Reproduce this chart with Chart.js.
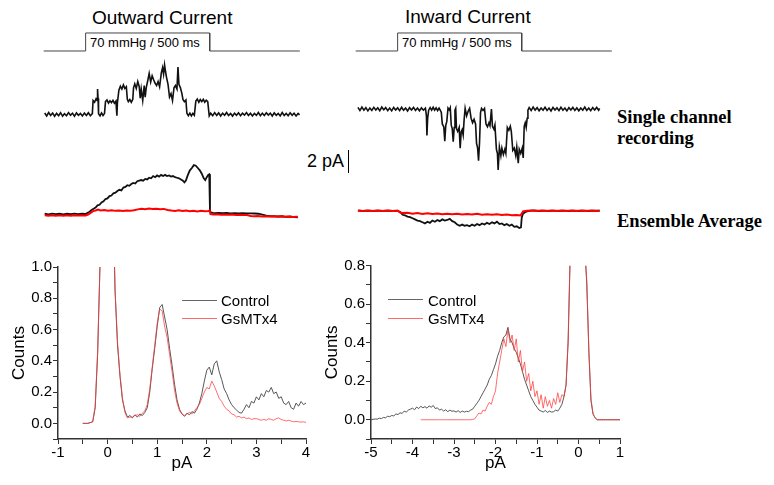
<!DOCTYPE html>
<html>
<head>
<meta charset="utf-8">
<script src="https://cdn.jsdelivr.net/npm/chart.js@4.4.1/dist/chart.umd.min.js"></script>
<style>
  body { margin: 0; background: #fff; }
  #fig { position: relative; width: 774px; height: 485px; overflow: hidden; font-family: "Liberation Sans", Arial, sans-serif; color: #000; }
  #fig canvas { position: absolute; }
  .txt { position: absolute; white-space: nowrap; }
  .serif { font-family: "Liberation Serif", "Times New Roman", serif; font-weight: bold; font-size: 18.5px; }
  .legline { position: absolute; height: 0; width: 35px; }
</style>
</head>
<body>
<div id="fig">
  <div class="txt" style="left:92px;top:8px;font-size:19px;line-height:19px;">Outward Current</div>
  <div class="txt" style="left:405px;top:7px;font-size:19px;line-height:19px;">Inward Current</div>
  <div class="txt" style="left:90px;top:36px;font-size:13px;line-height:13px;">70 mmHg / 500 ms</div>
  <div class="txt" style="left:402px;top:36px;font-size:13px;line-height:13px;">70 mmHg / 500 ms</div>
  <div class="txt" style="left:307px;top:152px;font-size:18px;line-height:18px;">2 pA</div>
  <div style="position:absolute;left:348px;top:150px;height:23px;border-left:1.5px solid #000;"></div>
  <div class="txt serif" style="left:617px;top:107px;line-height:20.5px;">Single channel<br>recording</div>
  <div class="txt serif" style="left:617px;top:212px;line-height:18.5px;">Ensemble Average</div>

  <canvas id="pressOut" width="273" height="28" style="left:36px;top:28px;"></canvas>
  <canvas id="pressIn" width="273" height="28" style="left:348px;top:28px;"></canvas>
  <canvas id="singleOut" width="273" height="75" style="left:36px;top:56px;"></canvas>
  <canvas id="singleIn" width="273" height="85" style="left:348px;top:95px;"></canvas>
  <canvas id="avgOut" width="273" height="70" style="left:36px;top:155px;"></canvas>
  <canvas id="avgIn" width="273" height="45" style="left:348px;top:195px;"></canvas>

  <canvas id="histOut" width="330" height="235" style="left:0px;top:250px;"></canvas>
  <canvas id="histIn" width="335" height="235" style="left:315px;top:250px;"></canvas>

  <div class="legline" style="left:182px;top:300px;border-top:1px solid #666;"></div>
  <div class="legline" style="left:182px;top:318px;border-top:1px solid rgba(255,70,70,0.8);"></div>
  <div class="txt" style="left:221px;top:293px;font-size:15px;line-height:15px;">Control</div>
  <div class="txt" style="left:221px;top:311px;font-size:15px;line-height:15px;">GsMTx4</div>
  <div class="legline" style="left:388px;top:299px;border-top:1px solid #666;"></div>
  <div class="legline" style="left:388px;top:318px;border-top:1px solid rgba(255,70,70,0.8);"></div>
  <div class="txt" style="left:428px;top:293px;font-size:15px;line-height:15px;">Control</div>
  <div class="txt" style="left:428px;top:311px;font-size:15px;line-height:15px;">GsMTx4</div>
</div>

<script>
// pressure step, [ms, mmHg]
const pressure = [[-169, 0], [0, 0], [0, 70], [500, 70], [500, 0], [863, 0]];

// single channel recordings, [ms, pA]
const outSingle = [
  [-165,0.12],[-157,-0.14],[-149,0.16],[-141,-0.09],[-133,0.11],[-125,-0.17],[-117,0.08],[-109,-0.12],[-101,0.14],[-93,-0.15],
  [-85,0.06],[-77,-0.12],[-69,0.15],[-61,-0.08],[-53,0.1],[-45,-0.17],[-37,0.12],[-29,-0.09],[-21,0.08],[-13,-0.14],
  [-5,0.11],[3,-0.1],[11,0.14],[19,-0.12],[27,0.06],
  [30,1.2],[36,1.05],[42,1.35],[46,1.2],[48,2.2],[50,1.4],[52,0.05],[58,-0.14],[64,0.12],[70,-0.1],[76,0.08],
  [80,1.1],[86,1.25],[92,0.98],[98,1.18],[104,1.02],[110,1.22],[116,0.96],[122,1.15],[126,-0.12],[128,1.0],
  [134,2.1],[140,2.45],[146,2.2],[152,2.55],[158,2.25],[164,2.4],[168,1.3],[172,1.1],[178,1.28],[184,1.05],[190,1.3],
  [193,2.3],[198,2.65],[204,2.25],[210,2.85],[216,2.4],[220,1.4],[224,2.2],[230,1.2],[236,2.5],[240,1.5],[244,2.3],
  [250,2.9],[256,3.55],[262,2.8],[268,3.35],[274,3.0],[280,2.7],[286,2.5],[292,2.85],[298,2.4],
  [305,3.6],[310,4.05],[314,3.5],[318,4.3],[322,3.7],[326,3.2],[332,2.6],[338,1.5],[344,1.8],[350,1.2],
  [356,2.3],[362,2.5],[368,2.2],[372,4.1],[376,2.6],[382,2.3],[388,1.8],[392,1.3],[398,1.1],[404,1.25],
  [408,0.1],[414,-0.12],[420,0.1],[426,-0.14],[432,0.08],[438,-0.08],
  [444,1.15],[450,1.32],[456,1.05],[462,1.28],[468,1.1],[474,1.3],[480,1.05],[486,1.22],[492,1.1],
  [498,-0.14],[504,0.1],[512,-0.12],[520,0.15],[528,-0.09],[536,0.12],[544,-0.15],[552,0.1],[560,-0.08],[568,0.16],
  [576,-0.11],[584,0.07],[592,-0.15],[600,0.1],[608,-0.09],[616,0.13],[624,-0.12],[632,0.09],[640,-0.07],[648,0.15],
  [656,-0.1],[664,0.1],[672,-0.14],[680,0.07],[688,-0.09],[696,0.16],[704,-0.12],[712,0.09],[720,-0.1],[728,0.13],
  [736,-0.07],[744,0.1],[752,-0.15],[760,0.12],[768,-0.09],[776,0.08],[784,-0.14],[792,0.15],[800,-0.1],[808,0.07],
  [816,-0.12],[824,0.13],[832,-0.09],[840,0.1],[848,-0.14],[856,0.08],[862,-0.05]
];

const inSingle = [
  [-160,0.14],[-152,-0.13],[-144,0.17],[-136,-0.1],[-128,0.12],[-120,-0.16],[-112,0.09],[-104,-0.12],[-96,0.15],[-88,-0.09],
  [-80,0.1],[-72,-0.15],[-64,0.17],[-56,-0.07],[-48,0.12],[-40,-0.14],[-32,0.09],[-24,-0.16],[-16,0.14],[-8,-0.09],
  [0,0.1],[8,-0.14],[16,0.15],[24,-0.1],[32,0.09],[40,-0.17],[48,0.12],[56,-0.09],[64,0.14],[72,-0.12],
  [80,0.09],[88,-0.15],[96,0.1],[104,-0.1],[112,0.07],
  [116,-0.6],[118,-2.3],[121,-0.8],[125,-0.1],[131,0.12],[137,-0.09],[143,0.15],[149,-0.1],[155,0.11],[161,-0.13],
  [167,0.08],[173,-0.15],[176,-0.3],[180,-1.3],[186,-1.55],[190,-2.8],[194,-1.4],[198,-1.1],[203,0.08],[208,-0.08],
  [212,0.12],[216,-1.4],[220,-1.7],[224,-2.85],[228,-1.6],[231,-0.1],[234,0.06],[237,-1.7],[242,-1.95],[248,-1.6],
  [252,-3.4],[256,-2.0],[260,-1.8],[264,-2.25],[268,-0.9],[272,0.06],[278,-0.6],[284,-0.2],[290,0.06],[296,-0.8],
  [302,-1.2],[308,-0.9],[314,-1.3],[318,-3.0],[322,-3.35],[326,-4.5],[330,-2.9],[334,-0.3],[338,0.06],[344,-0.12],
  [350,0.06],[356,-1.3],[362,-1.55],[368,-1.2],[372,-1.45],[378,0.0],[382,-1.5],[388,-1.75],[392,-1.4],[398,-3.5],
  [402,-3.85],[405,-5.3],[410,-3.3],[416,-4.05],[420,-3.4],[426,-3.95],[432,-3.5],[436,-3.85],[442,-1.6],[448,-1.85],
  [454,-1.5],[458,-1.95],[464,-3.6],[470,-3.4],[476,-4.05],[480,-3.3],[486,-4.7],[490,-3.5],[496,-3.85],[502,-3.4],
  [506,-4.25],[510,-1.5],[514,-1.2],[518,-1.6],[522,-0.8],[525,-0.1],
  [530,0.12],[538,-0.13],[546,0.17],[554,-0.09],[562,0.12],[570,-0.15],[578,0.09],[586,-0.11],[594,0.15],[602,-0.12],
  [610,0.09],[618,-0.17],[626,0.14],[634,-0.09],[642,0.1],[650,-0.14],[658,0.15],[666,-0.1],[674,0.09],[682,-0.16],
  [690,0.12],[698,-0.09],[706,0.14],[714,-0.12],[722,0.1],[730,-0.15],[738,0.09],[746,-0.1],[754,0.17],[762,-0.12],
  [770,0.09],[778,-0.14],[786,0.12],[794,-0.09],[802,0.14],[810,-0.1],[814,0.05]
];

// ensemble averages, [ms, pA]
const outAvgControl = [
  [-165,0.02],[-150,-0.03],[-135,0.03],[-120,-0.02],[-105,0.02],[-90,-0.03],[-75,0.02],[-60,-0.02],[-45,0.03],[-30,-0.02],
  [-15,0.02],[0,0.0],[8,0.1],[16,0.2],[24,0.35],[32,0.45],[40,0.55],[48,0.75],[56,0.8],[64,1.0],
  [72,1.1],[80,1.3],[88,1.35],[96,1.55],[104,1.6],[112,1.8],[120,1.85],[128,2.0],[136,2.1],[144,2.05],
  [152,2.3],[160,2.35],[168,2.5],[176,2.45],[184,2.6],[192,2.7],[200,2.65],[208,2.85],[216,2.9],[224,2.95],
  [232,2.9],[240,3.05],[248,3.0],[256,3.15],[264,3.1],[272,3.3],[280,3.2],[288,3.35],[296,3.25],[304,3.4],
  [312,3.3],[320,3.4],[328,3.3],[336,3.35],[344,3.25],[352,3.3],[360,3.2],[368,3.15],[376,3.1],[384,3.0],
  [392,2.9],[398,2.75],[404,2.9],[412,3.4],[420,3.8],[428,4.0],[436,4.25],[444,4.2],[452,4.0],[460,3.8],
  [468,3.5],[476,3.1],[482,2.95],[488,3.2],[494,3.4],[498,3.45],[501,0.3],[504,0.15],[512,0.1],[520,0.08],
  [536,0.1],[552,0.07],[568,0.09],[584,0.06],[600,0.08],[616,0.05],[632,0.07],[648,0.06],[664,0.05],[680,0.04],
  [696,0.02],[712,-0.05],[728,-0.15],[744,-0.2],[760,-0.18],[776,-0.22],[792,-0.2],[808,-0.25],[824,-0.22],[840,-0.28],[855,-0.3]
];

const outAvgGsmtx = [
  [-165,-0.12],[-150,-0.16],[-135,-0.11],[-120,-0.15],[-105,-0.12],[-90,-0.16],[-75,-0.12],[-60,-0.15],[-45,-0.11],[-30,-0.14],
  [-15,-0.12],[0,-0.13],[10,-0.05],[20,0.1],[30,0.25],[40,0.3],[50,0.38],[60,0.3],[75,0.35],[90,0.28],
  [105,0.33],[120,0.27],[135,0.3],[150,0.25],[165,0.3],[180,0.28],[195,0.32],[210,0.4],[225,0.45],[240,0.42],
  [255,0.47],[270,0.43],[285,0.46],[300,0.41],[315,0.44],[330,0.35],[345,0.3],[360,0.26],[375,0.32],[390,0.25],
  [405,0.3],[420,0.24],[435,0.28],[450,0.22],[465,0.27],[480,0.24],[495,0.26],[500,0.3],[503,-0.02],[515,-0.05],
  [530,-0.03],[545,-0.06],[560,-0.04],[575,-0.07],[590,-0.05],[605,-0.08],[620,-0.06],[635,-0.08],[650,-0.1],[665,-0.18],
  [680,-0.2],[695,-0.18],[710,-0.22],[725,-0.2],[740,-0.23],[755,-0.2],[770,-0.24],[785,-0.21],[800,-0.25],[815,-0.22],
  [830,-0.26],[855,-0.25]
];

const inAvgControl = [
  [-160,0.02],[-140,-0.02],[-120,0.02],[-100,-0.02],[-80,0.02],[-60,-0.02],[-40,0.02],[-20,-0.01],[0,0.0],[10,-0.1],
  [20,-0.35],[30,-0.4],[40,-0.5],[50,-0.55],[60,-0.65],[70,-0.75],[80,-0.85],[90,-0.9],[100,-1.0],[110,-1.1],
  [120,-0.95],[130,-1.05],[140,-0.85],[150,-0.95],[160,-0.8],[170,-0.9],[180,-0.75],[190,-0.85],[200,-0.8],[210,-0.7],
  [220,-0.9],[230,-1.0],[240,-1.2],[250,-1.3],[260,-1.2],[270,-1.3],[280,-1.25],[290,-1.35],[300,-1.2],[310,-1.3],
  [320,-1.15],[330,-1.25],[340,-1.1],[350,-1.2],[360,-1.05],[370,-1.15],[380,-1.0],[390,-1.1],[400,-0.95],[410,-1.15],
  [420,-1.1],[430,-1.25],[440,-1.15],[450,-1.3],[460,-1.2],[470,-1.4],[480,-1.35],[490,-1.5],[497,-1.45],[500,-0.6],
  [505,-0.25],[515,-0.1],[530,0.0],[550,0.03],[570,-0.02],[590,0.02],[610,-0.02],[630,0.02],[650,-0.02],[670,0.02],
  [690,-0.02],[710,0.02],[730,-0.02],[750,0.02],[770,-0.02],[790,0.02],[814,0.0]
];

const inAvgGsmtx = [
  [-160,0.03],[-140,-0.02],[-120,0.03],[-100,-0.02],[-80,0.02],[-60,-0.02],[-40,0.03],[-20,-0.01],[0,0.0],[10,-0.15],
  [20,-0.2],[40,-0.18],[60,-0.25],[80,-0.2],[100,-0.27],[120,-0.22],[140,-0.28],[160,-0.23],[180,-0.3],[200,-0.25],
  [220,-0.3],[240,-0.26],[260,-0.33],[280,-0.28],[300,-0.32],[320,-0.27],[340,-0.34],[360,-0.3],[380,-0.35],[400,-0.3],
  [420,-0.37],[440,-0.33],[460,-0.38],[480,-0.36],[495,-0.4],[500,-0.25],[505,-0.05],[520,0.0],[540,0.03],[560,-0.02],
  [580,0.03],[600,-0.02],[620,0.02],[640,-0.02],[660,0.03],[680,-0.02],[700,0.02],[720,-0.02],[740,0.03],[760,-0.02],
  [780,0.02],[800,-0.02],[814,0.01]
];

// amplitude histograms (pA bins, counts)
const outBins = [
  -0.5,-0.45,-0.4,-0.35,-0.3,-0.25,-0.2,-0.15,-0.1,-0.05,
  0,0.05,0.1,0.15,0.2,0.25,0.3,0.35,0.4,0.45,
  0.5,0.55,0.6,0.65,0.7,0.75,0.8,0.85,0.9,0.95,
  1,1.05,1.1,1.15,1.2,1.25,1.3,1.35,1.4,1.45,
  1.5,1.55,1.6,1.65,1.7,1.75,1.8,1.85,1.9,1.95,
  2,2.05,2.1,2.15,2.2,2.25,2.3,2.35,2.4,2.45,
  2.5,2.55,2.6,2.65,2.7,2.75,2.8,2.85,2.9,2.95,
  3,3.05,3.1,3.15,3.2,3.25,3.3,3.35,3.4,3.45,
  3.5,3.55,3.6,3.65,3.7,3.75,3.8,3.85,3.9,3.95,
  4
];
const outControl = [
  0,0,0,0.005,0.01,0.1,0.45,1.05,1.9,2.6,
  2.8,2.5,1.6,0.85,0.5,0.3,0.15,0.08,0.04,0.05,
  0.035,0.055,0.04,0.06,0.05,0.07,0.1,0.2,0.35,0.48,
  0.62,0.74,0.76,0.68,0.6,0.48,0.37,0.25,0.15,0.09,
  0.06,0.045,0.065,0.055,0.075,0.065,0.09,0.13,0.19,0.27,
  0.34,0.36,0.31,0.38,0.4,0.33,0.28,0.22,0.19,0.15,
  0.12,0.1,0.085,0.07,0.065,0.09,0.12,0.1,0.14,0.13,
  0.17,0.15,0.19,0.17,0.21,0.2,0.23,0.19,0.2,0.16,
  0.17,0.13,0.12,0.14,0.1,0.09,0.13,0.11,0.14,0.12,
  0.13
];
const outGsmtx = [
  0,0,0,0.005,0.012,0.11,0.47,1.05,1.9,2.6,
  2.8,2.5,1.6,0.86,0.52,0.31,0.16,0.07,0.035,0.04,
  0.04,0.05,0.055,0.045,0.065,0.08,0.12,0.22,0.36,0.5,
  0.64,0.73,0.72,0.62,0.55,0.44,0.33,0.21,0.13,0.08,
  0.06,0.05,0.06,0.07,0.06,0.08,0.1,0.12,0.16,0.2,
  0.23,0.22,0.27,0.24,0.2,0.16,0.14,0.11,0.09,0.08,
  0.06,0.055,0.04,0.045,0.035,0.04,0.03,0.035,0.025,0.03,
  0.03,0.025,0.02,0.025,0.02,0.03,0.025,0.02,0.03,0.035,
  0.025,0.02,0.015,0.02,0.015,0.01,0.012,0.01,0.008,0.01,
  0.006
];

const inBins = [
  -5,-4.95,-4.9,-4.85,-4.8,-4.75,-4.7,-4.65,-4.6,-4.55,
  -4.5,-4.45,-4.4,-4.35,-4.3,-4.25,-4.2,-4.15,-4.1,-4.05,
  -4,-3.95,-3.9,-3.85,-3.8,-3.75,-3.7,-3.65,-3.6,-3.55,
  -3.5,-3.45,-3.4,-3.35,-3.3,-3.25,-3.2,-3.15,-3.1,-3.05,
  -3,-2.95,-2.9,-2.85,-2.8,-2.75,-2.7,-2.65,-2.6,-2.55,
  -2.5,-2.45,-2.4,-2.35,-2.3,-2.25,-2.2,-2.15,-2.1,-2.05,
  -2,-1.95,-1.9,-1.85,-1.8,-1.75,-1.7,-1.65,-1.6,-1.55,
  -1.5,-1.45,-1.4,-1.35,-1.3,-1.25,-1.2,-1.15,-1.1,-1.05,
  -1,-0.95,-0.9,-0.85,-0.8,-0.75,-0.7,-0.65,-0.6,-0.55,
  -0.5,-0.45,-0.4,-0.35,-0.3,-0.25,-0.2,-0.15,-0.1,-0.05,
  0,0.05,0.1,0.15,0.2,0.25,0.3,0.35,0.4,0.45,
  0.5,0.55,0.6,0.65,0.7,0.75,0.8,0.85,0.9,0.95,
  1
];
const inControl = [
  0,0.002,0.004,0.003,0.008,0.006,0.012,0.01,0.018,0.016,
  0.022,0.02,0.03,0.027,0.036,0.033,0.045,0.04,0.05,0.055,
  0.06,0.052,0.066,0.058,0.07,0.062,0.068,0.06,0.072,0.065,
  0.074,0.058,0.062,0.05,0.055,0.045,0.052,0.042,0.05,0.044,
  0.046,0.04,0.047,0.038,0.045,0.04,0.044,0.042,0.05,0.055,
  0.07,0.085,0.1,0.12,0.14,0.16,0.18,0.21,0.23,0.26,
  0.29,0.33,0.36,0.4,0.43,0.44,0.48,0.42,0.4,0.37,
  0.35,0.32,0.29,0.25,0.21,0.18,0.15,0.12,0.1,0.08,
  0.065,0.05,0.045,0.04,0.048,0.038,0.045,0.04,0.042,0.05,
  0.045,0.06,0.08,0.12,0.18,0.4,0.85,1.4,2.0,2.5,
  2.6,2.3,1.6,0.9,0.7,0.35,0.1,0.03,0.01,0,
  0,0,0,0,0,0,0,0,0,0,
  0
];
const inGsmtx = [
  null,null,null,null,null,null,null,null,null,null,
  null,null,null,null,null,null,null,null,null,null,
  null,null,null,null,0,0,0,0,0,0,
  0,0,0,0,0,0,0,0,0,0,
  0,0,0,0,0,0,0,0,0,0.002,
  0.005,0.02,0.035,0.03,0.05,0.045,0.07,0.09,0.08,0.12,
  0.15,0.24,0.3,0.36,0.42,0.38,0.47,0.4,0.44,0.36,
  0.42,0.3,0.36,0.25,0.3,0.2,0.24,0.15,0.2,0.12,
  0.15,0.08,0.13,0.06,0.12,0.07,0.1,0.06,0.11,0.08,
  0.14,0.09,0.13,0.12,0.18,0.42,0.87,1.4,2.0,2.5,
  2.6,2.3,1.6,0.9,0.72,0.36,0.11,0.03,0.01,0,
  0,0,0,0,0,0,0,0,0,0,
  0
];

const outTicks = { min: -1, max: 4 };
const inTicks = { min: -5, max: 1 };

Chart.defaults.font.family = "'Liberation Sans', Arial, sans-serif";
Chart.defaults.color = "#000";

// trace panels: no visible axes, fixed ranges so 2 pA = 23 px
function createTrace(id, datasets, yMin, yMax) {
  const ctx = document.getElementById(id).getContext("2d");
  return new Chart(ctx, {
    type: "line",
    data: {
      datasets: datasets.map((d) => ({
        data: d.points,
        borderColor: d.color,
        borderWidth: d.width,
        pointRadius: 0,
        tension: 0,
        fill: false,
      })),
    },
    options: {
      responsive: false,
      animation: false,
      events: [],
      layout: { padding: 0 },
      plugins: { legend: { display: false }, tooltip: { enabled: false } },
      scales: {
        x: { type: "linear", display: false, min: -200, max: 900 },
        y: { display: false, min: yMin, max: yMax },
      },
    },
  });
}

createTrace("pressOut", [{ points: pressure, color: "#444", width: 1 }], -19.5, 89.4);
createTrace("pressIn", [{ points: pressure, color: "#444", width: 1 }], -19.5, 89.4);
createTrace("singleOut", [{ points: outSingle, color: "#111", width: 1.6 }], -1.45, 5.07);
createTrace("singleIn", [{ points: inSingle, color: "#111", width: 1.6 }], -6.17, 1.22);
createTrace("avgOut", [
  { points: outAvgGsmtx, color: "rgb(255,0,0)", width: 2 },
  { points: outAvgControl, color: "#111", width: 1.8 },
], -0.96, 5.13);
createTrace("avgIn", [
  { points: inAvgGsmtx, color: "rgb(255,0,0)", width: 2 },
  { points: inAvgControl, color: "#111", width: 1.8 },
], -2.54, 1.37);

function createHistogram(id, bins, control, gsmtx, xRange, yMax, yAxisWidth, pad, titlePad) {
  const ctx = document.getElementById(id).getContext("2d");
  const axisColor = "#333";
  return new Chart(ctx, {
    type: "line",
    data: {
      datasets: [
        {
          label: "GsMTx4",
          data: bins.map((x, i) => ({ x: x, y: gsmtx[i] })),
          borderColor: "rgba(255,60,60,0.75)",
          borderWidth: 1,
          pointRadius: 0,
          order: 0,
        },
        {
          label: "Control",
          data: bins.map((x, i) => ({ x: x, y: control[i] })),
          borderColor: "rgba(70,70,70,0.9)",
          borderWidth: 1,
          pointRadius: 0,
          order: 1,
        },
      ],
    },
    options: {
      responsive: false,
      animation: false,
      events: [],
      layout: { padding: pad },
      plugins: { legend: { display: false }, tooltip: { enabled: false } },
      scales: {
        x: {
          type: "linear",
          min: xRange.min,
          max: xRange.max,
          afterFit: (scale) => { scale.height = 46; },
          ticks: {
            stepSize: 0.5,
            autoSkip: false,
            maxRotation: 0,
            padding: 0,
            font: { size: 15 },
            callback: (v) => (Math.abs(v - Math.round(v)) < 1e-6 ? String(Math.round(v)) : ""),
          },
          grid: { drawOnChartArea: false, drawTicks: true, tickLength: 5, color: axisColor },
          border: { display: true, color: axisColor, width: 1.5 },
          title: { display: true, text: "pA", font: { size: 17 }, padding: { top: 0, bottom: 11 } },
        },
        y: {
          min: -0.1,
          max: yMax,
          afterFit: (scale) => { scale.width = yAxisWidth; },
          ticks: {
            stepSize: 0.1,
            autoSkip: false,
            padding: 1,
            font: { size: 15 },
            callback: (v) => (Math.round(v * 10) % 2 === 0 && v > -0.05 ? v.toFixed(1) : ""),
          },
          grid: { drawOnChartArea: false, drawTicks: true, tickLength: 5, color: axisColor },
          border: { display: true, color: axisColor, width: 1.5 },
          title: { display: true, text: "Counts", font: { size: 17 }, padding: { top: titlePad, bottom: 0 } },
        },
      },
    },
  });
}

createHistogram("histOut", outBins, outControl, outGsmtx, outTicks, 1.0, 58,
  { top: 17, right: 24, left: 0, bottom: 0 }, 9.5);
createHistogram("histIn", inBins, inControl, inGsmtx, inTicks, 0.8, 56,
  { top: 15.7, right: 30, left: 0, bottom: 0 }, 7);
</script>
</body>
</html>
